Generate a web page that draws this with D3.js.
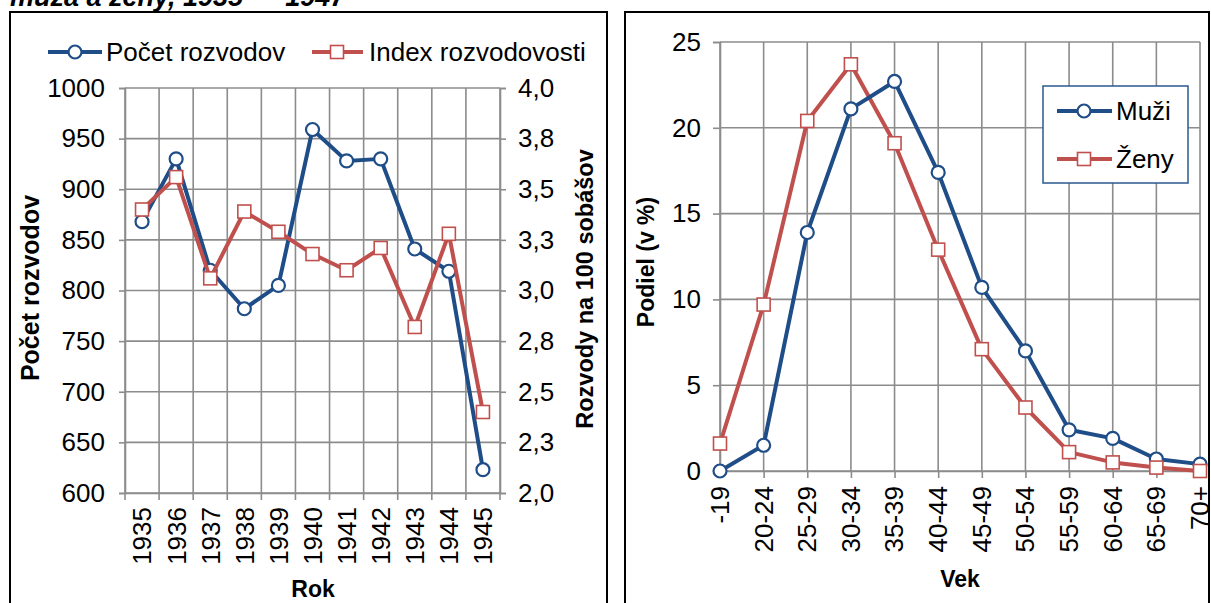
<!DOCTYPE html>
<html>
<head>
<meta charset="utf-8">
<script src="https://cdn.jsdelivr.net/npm/d3@7"></script>
<style>
  body { margin: 0; background: #fff; }
  text { font-family: "Liberation Sans", Arial, sans-serif; }
</style>
</head>
<body>
<svg id="chart" width="1211" height="603"></svg>
<script>
// left chart: divorces 1935-1945
const years = ["1935","1936","1937","1938","1939","1940","1941","1942","1943","1944","1945"];
const pocetRozvodov = [868, 930, 820, 782, 805, 959, 928, 930, 841, 819, 623];
const indexRozvodovosti = [3.40, 3.56, 3.06, 3.39, 3.29, 3.18, 3.10, 3.21, 2.82, 3.28, 2.40];
const pocetTicks = [600, 650, 700, 750, 800, 850, 900, 950, 1000];
const indexTicks = [2.0, 2.25, 2.5, 2.75, 3.0, 3.25, 3.5, 3.75, 4.0];

// right chart: share by age
const ageGroups = ["-19","20-24","25-29","30-34","35-39","40-44","45-49","50-54","55-59","60-64","65-69","70+"];
const muzi = [0.0, 1.5, 13.9, 21.1, 22.7, 17.4, 10.7, 7.0, 2.4, 1.9, 0.7, 0.4];
const zeny = [1.6, 9.7, 20.4, 23.7, 19.1, 12.9, 7.1, 3.7, 1.1, 0.5, 0.2, 0.0];
const podielTicks = [0, 5, 10, 15, 20, 25];

const BLUE = "#1f4d87", RED = "#c0504d", GRID = "#8c8c8c";
const svg = d3.select("#chart");

// frames + cut title
svg.append("text").attr("x", 10).attr("y", 6)
  .attr("font-size", 27).attr("font-weight", "bold").attr("font-style", "italic")
  .text("muža a ženy, 1935 — 1947");
svg.append("rect").attr("x", 10).attr("y", 12).attr("width", 597).attr("height", 640)
  .attr("fill", "none").attr("stroke", "#000").attr("stroke-width", 2);
svg.append("rect").attr("x", 625).attr("y", 12).attr("width", 584).attr("height", 640)
  .attr("fill", "none").attr("stroke", "#000").attr("stroke-width", 2);

function circleMarks(g, pts) {
  g.selectAll("circle.m").data(pts).enter().append("circle").attr("class", "m")
    .attr("cx", d => d[0]).attr("cy", d => d[1]).attr("r", 6.5)
    .attr("fill", "#fff").attr("stroke", BLUE).attr("stroke-width", 2.2);
}
function squareMarks(g, pts) {
  g.selectAll("rect.m").data(pts).enter().append("rect").attr("class", "m")
    .attr("x", d => d[0] - 6.5).attr("y", d => d[1] - 6.5).attr("width", 13).attr("height", 13)
    .attr("fill", "#fff").attr("stroke", RED).attr("stroke-width", 1.6);
}
function styleAxis(g) {
  g.select(".domain").attr("stroke", GRID).attr("stroke-width", 1.6);
  g.selectAll(".tick line").attr("stroke", GRID).attr("stroke-width", 1.6);
  g.selectAll(".tick text").attr("font-size", 26).attr("fill", "#000")
    .attr("font-family", "'Liberation Sans', Arial, sans-serif");
}

// ---------- left chart ----------
const left = svg.append("g");
const xL = d3.scaleBand().domain(years).range([125, 500]);
const yL = d3.scaleLinear().domain([600, 1000]).range([493, 88]);
const yR = d3.scaleLinear().domain([2.0, 4.0]).range([493, 88]);
const edges = years.map(d => xL(d)).concat([xL.range()[1]]);

left.selectAll("line.hg").data(pocetTicks).enter().append("line")
  .attr("x1", 125).attr("x2", 500).attr("y1", d => yL(d)).attr("y2", d => yL(d))
  .attr("stroke", GRID).attr("stroke-width", 1.6);
left.selectAll("line.vg").data(edges).enter().append("line")
  .attr("x1", d => d).attr("x2", d => d).attr("y1", 88).attr("y2", 493)
  .attr("stroke", GRID).attr("stroke-width", 1.6);

const axL = left.append("g").attr("transform", "translate(125,0)")
  .call(d3.axisLeft(yL).tickValues(pocetTicks).tickSize(6).tickPadding(14).tickFormat(d3.format("d")));
styleAxis(axL);
const axR = left.append("g").attr("transform", "translate(500,0)")
  .call(d3.axisRight(yR).tickValues(indexTicks).tickSize(6).tickPadding(12)
    .tickFormat(d => d.toFixed(1).replace(".", ",")));
styleAxis(axR);
const axB = left.append("g").attr("transform", "translate(0,493)")
  .call(d3.axisBottom(xL).tickSize(0).tickSizeOuter(0));
axB.select(".domain").attr("stroke", GRID).attr("stroke-width", 1.6);
axB.selectAll(".tick text").attr("font-size", 26).attr("fill", "#000")
  .attr("text-anchor", "end").attr("transform", "translate(0,14) rotate(-90)")
  .attr("x", 0).attr("y", 0).attr("dy", "0.36em");
left.selectAll("line.bt").data(edges).enter().append("line")
  .attr("x1", d => d).attr("x2", d => d).attr("y1", 493).attr("y2", 500)
  .attr("stroke", GRID).attr("stroke-width", 1.6);

const cx = d => xL(d) + xL.bandwidth() / 2;
const ptsP = years.map((d, i) => [cx(d), yL(pocetRozvodov[i])]);
const ptsI = years.map((d, i) => [cx(d), yR(indexRozvodovosti[i])]);
const line = d3.line();
left.append("path").attr("d", line(ptsP)).attr("fill", "none")
  .attr("stroke", BLUE).attr("stroke-width", 4).attr("stroke-linejoin", "round");
circleMarks(left.append("g"), ptsP);
left.append("path").attr("d", line(ptsI)).attr("fill", "none")
  .attr("stroke", RED).attr("stroke-width", 4).attr("stroke-linejoin", "round");
squareMarks(left.append("g"), ptsI);

left.append("text").attr("transform", "translate(39,288) rotate(-90)")
  .attr("text-anchor", "middle").attr("font-size", 25).attr("font-weight", "bold").text("Počet rozvodov");
left.append("text").attr("transform", "translate(593,289) rotate(-90)")
  .attr("text-anchor", "middle").attr("font-size", 23.5).attr("font-weight", "bold").text("Rozvody na 100 sobášov");
left.append("text").attr("x", 313).attr("y", 597)
  .attr("text-anchor", "middle").attr("font-size", 23).attr("font-weight", "bold").text("Rok");

// legend left
const lg = left.append("g");
lg.append("line").attr("x1", 48).attr("x2", 102).attr("y1", 52).attr("y2", 52)
  .attr("stroke", BLUE).attr("stroke-width", 4);
circleMarks(lg, [[75, 52]]);
lg.append("text").attr("x", 106).attr("y", 61).attr("font-size", 26).text("Počet rozvodov");
const lg2 = left.append("g");
lg2.append("line").attr("x1", 312).attr("x2", 363).attr("y1", 52).attr("y2", 52)
  .attr("stroke", RED).attr("stroke-width", 4);
squareMarks(lg2, [[337, 52]]);
lg2.append("text").attr("x", 369).attr("y", 61).attr("font-size", 26).text("Index rozvodovosti");

// ---------- right chart ----------
const right = svg.append("g");
const xA = d3.scalePoint().domain(ageGroups).range([720, 1200]);
const yA = d3.scaleLinear().domain([0, 25]).range([471, 42]);

right.selectAll("line.hg").data(podielTicks).enter().append("line")
  .attr("x1", 720).attr("x2", 1200).attr("y1", d => yA(d)).attr("y2", d => yA(d))
  .attr("stroke", GRID).attr("stroke-width", 1.6);
right.selectAll("line.vg").data(ageGroups).enter().append("line")
  .attr("x1", d => xA(d)).attr("x2", d => xA(d)).attr("y1", 42).attr("y2", 471)
  .attr("stroke", GRID).attr("stroke-width", 1.6);

const axA = right.append("g").attr("transform", "translate(720,0)")
  .call(d3.axisLeft(yA).tickValues(podielTicks).tickSize(7).tickPadding(12));
styleAxis(axA);
const axV = right.append("g").attr("transform", "translate(0,471)")
  .call(d3.axisBottom(xA).tickSize(7).tickSizeOuter(0));
styleAxis(axV);
axV.selectAll(".tick text").attr("text-anchor", "end")
  .attr("transform", "translate(-1,15) rotate(-90)").attr("x", 0).attr("y", 0).attr("dy", "0.36em");

const ptsM = ageGroups.map((d, i) => [xA(d), yA(muzi[i])]);
const ptsZ = ageGroups.map((d, i) => [xA(d), yA(zeny[i])]);
right.append("path").attr("d", line(ptsZ)).attr("fill", "none")
  .attr("stroke", RED).attr("stroke-width", 4).attr("stroke-linejoin", "round");
right.append("path").attr("d", line(ptsM)).attr("fill", "none")
  .attr("stroke", BLUE).attr("stroke-width", 4).attr("stroke-linejoin", "round");
circleMarks(right.append("g"), ptsM);
squareMarks(right.append("g"), ptsZ);

right.append("text").attr("transform", "translate(654,262) rotate(-90)")
  .attr("text-anchor", "middle").attr("font-size", 23).attr("font-weight", "bold").text("Podiel (v %)");
right.append("text").attr("x", 960).attr("y", 587)
  .attr("text-anchor", "middle").attr("font-size", 23).attr("font-weight", "bold").text("Vek");

// legend right
const lr = right.append("g");
lr.append("rect").attr("x", 1043).attr("y", 86).attr("width", 145).attr("height", 97)
  .attr("fill", "#fff").attr("stroke", "#2b5a8f").attr("stroke-width", 1.5);
lr.append("line").attr("x1", 1057).attr("x2", 1112).attr("y1", 111).attr("y2", 111)
  .attr("stroke", BLUE).attr("stroke-width", 4);
circleMarks(lr.append("g"), [[1084, 111]]);
lr.append("text").attr("x", 1116).attr("y", 120).attr("font-size", 26).text("Muži");
lr.append("line").attr("x1", 1057).attr("x2", 1112).attr("y1", 159).attr("y2", 159)
  .attr("stroke", RED).attr("stroke-width", 4);
squareMarks(lr.append("g"), [[1084, 159]]);
lr.append("text").attr("x", 1116).attr("y", 168).attr("font-size", 26).text("Ženy");
</script>
</body>
</html>
